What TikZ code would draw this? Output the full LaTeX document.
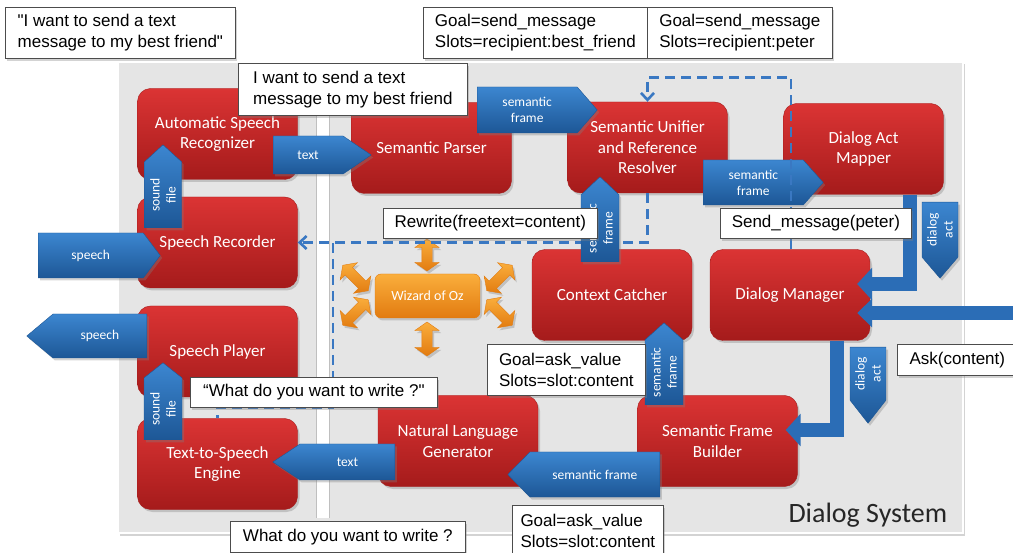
\documentclass[tikz,border=0pt]{standalone}
\usepackage{fontspec}
\setmainfont{Liberation Sans}[Ligatures=TeXOff]
\newfontfamily\carlito{Carlito}
\usetikzlibrary{arrows.meta,positioning,shapes.arrows,shadows}
\definecolor{boxtop}{HTML}{DB3434}
\definecolor{boxbot}{HTML}{A51B1B}
\definecolor{arrtop}{HTML}{3C86D0}
\definecolor{arrbot}{HTML}{1D5796}
\definecolor{pipeblue}{HTML}{2B6DB6}
\definecolor{dashblue}{HTML}{3A78C2}
\definecolor{oztop}{HTML}{FAAE3C}
\definecolor{ozbot}{HTML}{E27B10}
\definecolor{panelgray}{HTML}{E5E5E5}
\newcommand{\boxfont}{\carlito\fontsize{17}{20.5}\selectfont}
\newcommand{\tagfont}{\carlito\fontsize{13.5}{16}\selectfont}
\newcommand{\notefont}{\fontsize{17}{21}\selectfont}

\begin{document}
\begin{tikzpicture}[
  x=1pt, y=-1pt,
  softshadow/.style={drop shadow={opacity=0.35, shadow xshift=2pt, shadow yshift=-2.5pt}},
  panel/.style={fill=panelgray, draw=white, line width=1.5pt, minimum width=845pt, minimum height=471pt, inner sep=0pt, softshadow},
  module/.style={rounded corners=13pt, top color=boxtop, bottom color=boxbot, draw=boxbot, text=white, align=center, minimum width=160pt, minimum height=91pt, inner sep=3pt, font=\boxfont, softshadow},
  flowtag/.style={single arrow, single arrow head extend=0pt, top color=arrtop, bottom color=arrbot, draw=arrbot, text=white, align=center, inner sep=1pt, font=\tagfont, softshadow},
  notebox/.style={draw=black!70, fill=white, line width=0.7pt, align=left, font=\notefont, inner sep=2pt, anchor=north west, softshadow},
  ozbox/.style={rounded corners=6pt, top color=oztop, bottom color=ozbot, draw=ozbot, text=white, font=\carlito\fontsize{14}{16}\selectfont, minimum width=105pt, minimum height=44pt, softshadow},
  ozarrow/.style={double arrow, double arrow head extend=7pt, double arrow tip angle=110, minimum height=32pt, inner sep=5pt, font=\fontsize{1}{1}\selectfont, top color=oztop, bottom color=ozbot, draw=ozbot, softshadow},
  dashflow/.style={draw=dashblue, line width=2.6pt, dash pattern=on 10pt off 6pt},
  pipe/.style={draw=pipeblue, line width=14pt, line join=miter}
]
\useasboundingbox (0,0) rectangle (1013,553);

% Dialog system panel
\node[panel] (system) at (540.5,297.5) {};
\fill[white] (316,74) rectangle (329,518);
\draw[black!25, line width=0.6pt] (316,74) -- (316,518) (329,74) -- (329,518);

% Modules
\node[module] (asr) at (217.5,134) {Automatic Speech\\Recognizer};
\node[module] (recorder) at (217.5,242.5) {Speech Recorder};
\node[module] (player) at (217.5,351.5) {Speech Player};
\node[module] (tts) at (217.5,464) {Text-to-Speech\\Engine};
\node[module] (parser) at (431.5,148) {Semantic Parser};
\node[module] (unifier) at (647.5,147.5) {Semantic Unifier\\and Reference\\Resolver};
\node[module] (mapper) at (863.5,149) {Dialog Act\\Mapper};
\node[module] (context) at (612,295) {Context Catcher};
\node[module] (manager) at (790,295) {Dialog Manager};
\node[module] (nlg) at (458,441) {Natural Language\\Generator};
\node[module] (builder) at (717.5,441) {Semantic Frame\\Builder};

% Wizard of Oz
\node[ozbox] (wizard) at (427.5,296) {Wizard of Oz};
\node[ozarrow, rotate=90] (ozN) at (427,255) {};
\node[ozarrow, rotate=90, minimum height=34pt] (ozS) at (427,339) {};
\node[ozarrow, rotate=-45, minimum height=36pt] (ozNW) at (355.5,278) {};
\node[ozarrow, rotate=45, minimum height=36pt] (ozSW) at (355.5,312.5) {};
\node[ozarrow, rotate=45, minimum height=36pt] (ozNE) at (499.5,278) {};
\node[ozarrow, rotate=-45, minimum height=36pt] (ozSE) at (499.5,312.5) {};

% Rewrite path back to the speech side
\coordinate (fork) at (333,243);
\coordinate (turn) at (333,408);
\draw[dashflow, -{Straight Barb[length=7pt,width=13pt]}] (unifier.south) |- (recorder.east);
\draw[dashflow] (fork) -- (turn) -| (tts.north);

% Data tags
\node[flowtag, rotate=90, anchor=tail, minimum height=83pt, minimum width=37pt, single arrow tip angle=95] (sndIn) at (163,228) {sound\\file};
\node[flowtag, rotate=90, anchor=tail, minimum height=77pt, minimum width=38pt, single arrow tip angle=103] (sndOut) at (163,440) {sound\\file};
\node[flowtag, anchor=tail, minimum height=98pt, minimum width=38pt, single arrow tip angle=68] (textIn) at (273,155) {text};
\node[flowtag, anchor=tail, minimum height=120pt, minimum width=46pt, single arrow tip angle=98] (frameA) at (477,110) {semantic\\frame};
\node[flowtag, anchor=tail, minimum height=120pt, minimum width=45pt, single arrow tip angle=97] (frameB) at (703,182.5) {semantic\\frame};
\node[flowtag, anchor=tail, minimum height=122pt, minimum width=45pt, single arrow tip angle=106] (speechIn) at (38,255.5) {speech};
\node[flowtag, shape border rotate=180, anchor=tail, minimum height=120pt, minimum width=44pt, single arrow tip angle=80] (speechOut) at (147,336) {speech};
\node[flowtag, rotate=90, anchor=tail, minimum height=85pt, minimum width=38pt, single arrow tip angle=93] (frameC) at (600,262) {semantic\\frame};
\node[flowtag, rotate=90, anchor=tail, minimum height=82pt, minimum width=38pt, single arrow tip angle=96] (frameD) at (664,405) {semantic\\frame};
\node[flowtag, rotate=90, shape border rotate=180, anchor=tail, minimum height=76pt, minimum width=36pt, single arrow tip angle=81] (actA) at (940,202) {dialog\\act};
\node[flowtag, rotate=90, shape border rotate=180, anchor=tail, minimum height=76pt, minimum width=36pt, single arrow tip angle=76] (actB) at (868,347) {dialog\\act};
\node[flowtag, shape border rotate=180, anchor=tail, minimum height=152pt, minimum width=45pt, single arrow tip angle=91] (frameE) at (660,474.5) {semantic frame};
\node[flowtag, shape border rotate=180, anchor=tail, minimum height=122pt, minimum width=36pt, single arrow tip angle=67] (textOut) at (395,462) {text};

% Dialog act pipes
\coordinate (exit) at (1032,313);
\draw[pipe, -{Triangle[length=15pt,width=32pt]}] ([xshift=46.5pt]mapper.south) |- ([xshift=-13pt,yshift=11pt]manager.east);
\draw[pipe, -{Triangle[length=15pt,width=32pt]}] ([xshift=47pt]manager.south) |- ([xshift=-12pt,yshift=11pt]builder.east);
\draw[pipe, {Triangle[length=15pt,width=28pt]}-{Triangle[length=15pt,width=28pt]}] ([xshift=-13pt,yshift=-18pt]manager.east) -- (exit);

% Context loop
\draw[dashflow, -{Straight Barb[length=7pt,width=13pt]}] ([xshift=1pt]manager.north) -- ++(0,-172) -| (unifier.north);

% Example messages
\node[notebox, minimum width=230pt, minimum height=51pt] (userSays) at (5,7) {"I want to send a text\\message to my best friend"};
\node[notebox, minimum width=229pt, minimum height=52pt] (asrText) at (238,63) {I want to send a text\\message to my best friend};
\node[notebox, minimum width=224pt, minimum height=51pt] (parseFrame) at (423,7) {Goal=send\_message\\Slots=recipient:best\_friend};
\node[notebox, minimum width=185pt, minimum height=51pt] (unifyFrame) at (647,7) {Goal=send\_message\\Slots=recipient:peter};
\node[notebox, minimum width=214pt, minimum height=30pt] (rewriteAct) at (383,208) {Rewrite(freetext=content)};
\node[notebox, minimum width=191pt, minimum height=30pt] (sendAct) at (720,208) {Send\_message(peter)};
\node[notebox, minimum width=158pt, minimum height=51pt] (contextFrame) at (487,344) {Goal=ask\_value\\Slots=slot:content};
\node[notebox, minimum width=120pt, minimum height=31pt] (askAct) at (897,344) {Ask(content)};
\node[notebox, minimum width=247pt, minimum height=30pt] (nlgText) at (190,377) {“What do you want to write ?"};
\node[notebox, minimum width=235pt, minimum height=31pt] (ttsText) at (230,521) {What do you want to write ?};
\node[notebox, minimum width=151pt, minimum height=52pt] (builderFrame) at (512,505) {Goal=ask\_value\\Slots=slot:content};

\node[anchor=base east, text=black!85, font=\carlito\fontsize{28}{30}\selectfont] (title) at ([xshift=-13pt,yshift=11pt]system.south east) {Dialog System};
\end{tikzpicture}
\end{document}
